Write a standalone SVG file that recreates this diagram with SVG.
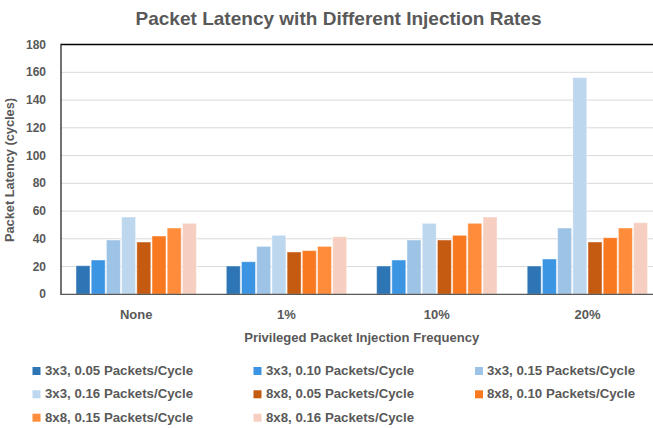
<svg xmlns="http://www.w3.org/2000/svg" width="653" height="428" viewBox="0 0 653 428">
<style>
text{font-family:"Liberation Sans",Arial,sans-serif;fill:#595959;font-weight:bold}
.title{font-size:19px}
.ytick{font-size:12px;text-anchor:end}
.xtick{font-size:13px;text-anchor:middle}
.axt{font-size:13px;text-anchor:middle}
.leg{font-size:12px}
.grid{stroke:#D9D9D9;stroke-width:1}
.bar{stroke:#ffffff;stroke-opacity:0.45;stroke-width:1}
.s1{fill:#2E75B6}.s2{fill:#3C95E3}.s3{fill:#9DC3E6}.s4{fill:#BDD7EE}
.s5{fill:#C55A11}.s6{fill:#F97921}.s7{fill:#FF8C3B}.s8{fill:#F7CFC1}
</style>
<rect x="0" y="0" width="653" height="428" fill="#ffffff"/>
<text class="title" x="338.5" y="25" text-anchor="middle" textLength="406" lengthAdjust="spacingAndGlyphs">Packet Latency with Different Injection Rates</text>
<g id="grid">
<line class="grid" x1="61" y1="72.3" x2="653" y2="72.3"/>
<line class="grid" x1="61" y1="100.1" x2="653" y2="100.1"/>
<line class="grid" x1="61" y1="127.8" x2="653" y2="127.8"/>
<line class="grid" x1="61" y1="155.6" x2="653" y2="155.6"/>
<line class="grid" x1="61" y1="183.3" x2="653" y2="183.3"/>
<line class="grid" x1="61" y1="211.1" x2="653" y2="211.1"/>
<line class="grid" x1="61" y1="238.8" x2="653" y2="238.8"/>
<line class="grid" x1="61" y1="266.6" x2="653" y2="266.6"/>
</g>
<g id="yticks">
<text class="ytick" x="46" y="48.5">180</text>
<text class="ytick" x="46" y="76.3">160</text>
<text class="ytick" x="46" y="104.1">140</text>
<text class="ytick" x="46" y="131.8">120</text>
<text class="ytick" x="46" y="159.6">100</text>
<text class="ytick" x="46" y="187.3">80</text>
<text class="ytick" x="46" y="215.1">60</text>
<text class="ytick" x="46" y="242.8">40</text>
<text class="ytick" x="46" y="270.6">20</text>
<text class="ytick" x="46" y="298.3">0</text>
</g>
<g id="bars-none">
<rect class="bar s1" x="76" y="265.7" width="14" height="28.6"/>
<rect class="bar s2" x="91.2" y="260" width="14" height="34.3"/>
<rect class="bar s3" x="106.4" y="240" width="14" height="54.3"/>
<rect class="bar s4" x="121.6" y="217" width="14" height="77.3"/>
<rect class="bar s5" x="136.8" y="242" width="14" height="52.3"/>
<rect class="bar s6" x="152" y="236" width="14" height="58.3"/>
<rect class="bar s7" x="167.2" y="228" width="14" height="66.3"/>
<rect class="bar s8" x="182.4" y="223.3" width="14" height="71"/>
</g>
<g id="bars-1pct">
<rect class="bar s1" x="226.3" y="266" width="14" height="28.3"/>
<rect class="bar s2" x="241.5" y="261.7" width="14" height="32.6"/>
<rect class="bar s3" x="256.7" y="246.4" width="14" height="47.9"/>
<rect class="bar s4" x="271.9" y="235.3" width="14" height="59"/>
<rect class="bar s5" x="287.1" y="252" width="14" height="42.3"/>
<rect class="bar s6" x="302.3" y="250.6" width="14" height="43.7"/>
<rect class="bar s7" x="317.5" y="246.4" width="14" height="47.9"/>
<rect class="bar s8" x="332.7" y="236.7" width="14" height="57.6"/>
</g>
<g id="bars-10pct">
<rect class="bar s1" x="376.6" y="266" width="14" height="28.3"/>
<rect class="bar s2" x="391.8" y="260" width="14" height="34.3"/>
<rect class="bar s3" x="407" y="240" width="14" height="54.3"/>
<rect class="bar s4" x="422.2" y="223.3" width="14" height="71"/>
<rect class="bar s5" x="437.4" y="240" width="14" height="54.3"/>
<rect class="bar s6" x="452.6" y="235.3" width="14" height="59"/>
<rect class="bar s7" x="467.8" y="223.3" width="14" height="71"/>
<rect class="bar s8" x="483" y="217" width="14" height="77.3"/>
</g>
<g id="bars-20pct">
<rect class="bar s1" x="527.2" y="266" width="14" height="28.3"/>
<rect class="bar s2" x="542.4" y="259" width="14" height="35.3"/>
<rect class="bar s3" x="557.6" y="228" width="14" height="66.3"/>
<rect class="bar s4" x="572.8" y="77.6" width="14" height="216.7"/>
<rect class="bar s5" x="588" y="242" width="14" height="52.3"/>
<rect class="bar s6" x="603.2" y="237.7" width="14" height="56.6"/>
<rect class="bar s7" x="618.4" y="228" width="14" height="66.3"/>
<rect class="bar s8" x="633.6" y="222.7" width="14" height="71.6"/>
</g>
<g id="axes">
<line x1="61" y1="44.5" x2="653" y2="44.5" stroke="#000000" stroke-width="1.5"/>
<line x1="61" y1="43.8" x2="61" y2="295" stroke="#262626" stroke-width="1.3"/>
<line x1="61" y1="294.3" x2="653" y2="294.3" stroke="#595959" stroke-width="1.3"/>
</g>
<g id="xticks">
<text class="xtick" x="136.2" y="319.3">None</text>
<text class="xtick" x="286.5" y="319.3">1%</text>
<text class="xtick" x="436.8" y="319.3">10%</text>
<text class="xtick" x="587.5" y="319.3">20%</text>
</g>
<text class="axt" x="361.7" y="342" textLength="235" lengthAdjust="spacingAndGlyphs">Privileged Packet Injection Frequency</text>
<text class="axt" transform="translate(13.5,170) rotate(-90)" x="0" y="0" textLength="144" lengthAdjust="spacingAndGlyphs">Packet Latency (cycles)</text>
<g id="legend">
<g id="leg1"><rect class="s1" x="32.5" y="367" width="8" height="8"/><text class="leg" x="45" y="375" textLength="148" lengthAdjust="spacingAndGlyphs">3x3, 0.05 Packets/Cycle</text></g>
<g id="leg2"><rect class="s2" x="253.5" y="367" width="8" height="8"/><text class="leg" x="266" y="375" textLength="148" lengthAdjust="spacingAndGlyphs">3x3, 0.10 Packets/Cycle</text></g>
<g id="leg3"><rect class="s3" x="475" y="367" width="8" height="8"/><text class="leg" x="487" y="375" textLength="148" lengthAdjust="spacingAndGlyphs">3x3, 0.15 Packets/Cycle</text></g>
<g id="leg4"><rect class="s4" x="32.5" y="390.3" width="8" height="8"/><text class="leg" x="45" y="398.3" textLength="148" lengthAdjust="spacingAndGlyphs">3x3, 0.16 Packets/Cycle</text></g>
<g id="leg5"><rect class="s5" x="253.5" y="390.3" width="8" height="8"/><text class="leg" x="266" y="398.3" textLength="148" lengthAdjust="spacingAndGlyphs">8x8, 0.05 Packets/Cycle</text></g>
<g id="leg6"><rect class="s6" x="475" y="390.3" width="8" height="8"/><text class="leg" x="487" y="398.3" textLength="148" lengthAdjust="spacingAndGlyphs">8x8, 0.10 Packets/Cycle</text></g>
<g id="leg7"><rect class="s7" x="32.5" y="413.7" width="8" height="8"/><text class="leg" x="45" y="421.7" textLength="148" lengthAdjust="spacingAndGlyphs">8x8, 0.15 Packets/Cycle</text></g>
<g id="leg8"><rect class="s8" x="253.5" y="413.7" width="8" height="8"/><text class="leg" x="266" y="421.7" textLength="148" lengthAdjust="spacingAndGlyphs">8x8, 0.16 Packets/Cycle</text></g>
</g>
</svg>
